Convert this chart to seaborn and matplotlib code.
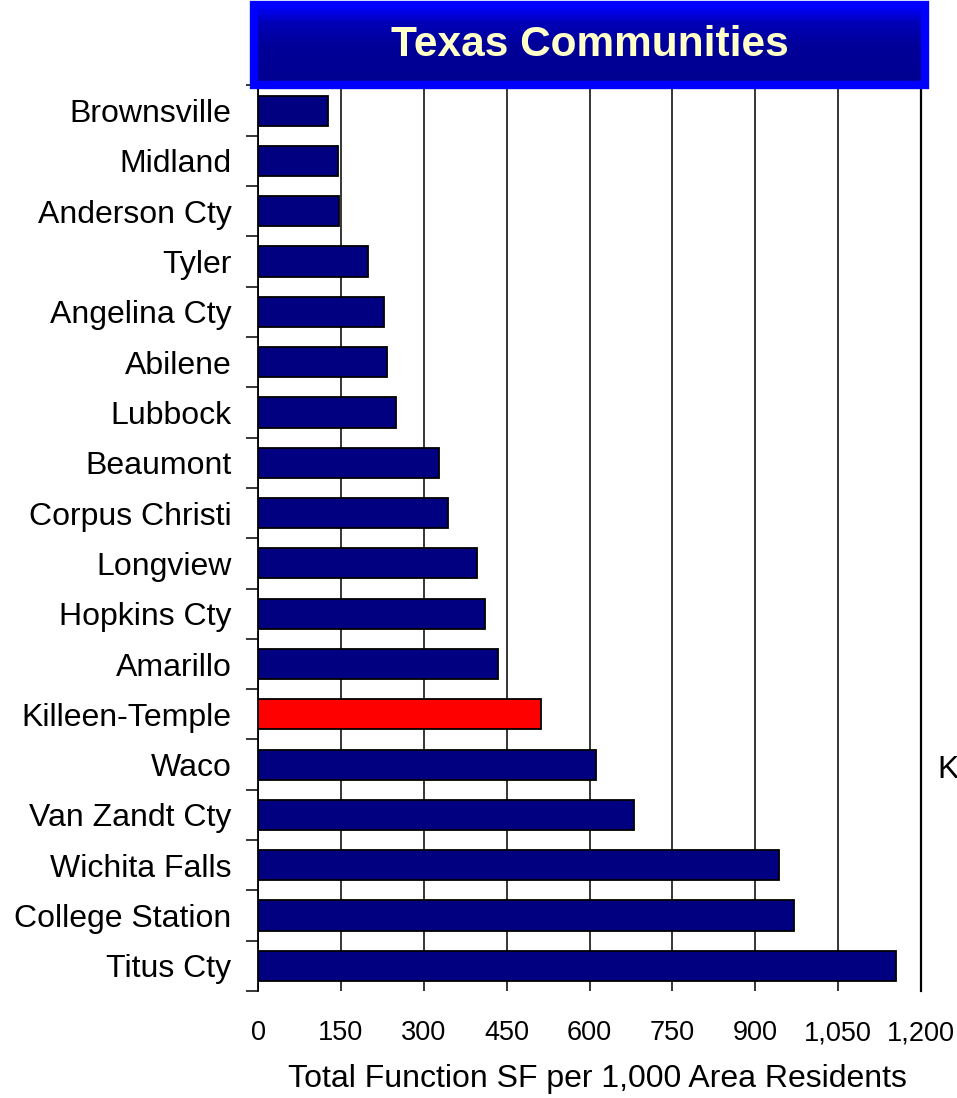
import numpy as np
import pandas as pd
import matplotlib
matplotlib.use("Agg")
import matplotlib.pyplot as plt
from matplotlib.colors import LinearSegmentedColormap
from matplotlib.patches import Rectangle
from matplotlib.ticker import FuncFormatter, FixedLocator
import seaborn as sns

# Total function space (SF) per 1,000 area residents, Texas communities
communities = [
    "Brownsville", "Midland", "Anderson Cty", "Tyler", "Angelina Cty",
    "Abilene", "Lubbock", "Beaumont", "Corpus Christi", "Longview",
    "Hopkins Cty", "Amarillo", "Killeen-Temple", "Waco", "Van Zandt Cty",
    "Wichita Falls", "College Station", "Titus Cty",
]
sf_per_1000 = [
    127, 144, 147, 199, 228,
    233, 250, 328, 344, 397,
    410, 435, 513, 611, 680,
    943, 970, 1154,
]
highlight = "Killeen-Temple"
x_ticks = [0, 150, 300, 450, 600, 750, 900, 1050, 1200]

title_text = "Texas Communities"
x_label = "Total Function SF per 1,000 Area Residents"
side_text = "K"

NAVY = "#000080"
RED = "#FF0000"

sns.set_style("white")
plt.rcParams["font.family"] = ["Liberation Sans", "DejaVu Sans"]

df = pd.DataFrame({"community": communities, "sf": sf_per_1000})
palette = {c: (RED if c == highlight else NAVY) for c in communities}

fig = plt.figure(figsize=(9.57, 10.98), dpi=100)
W, H = 957, 1098
ax = fig.add_axes([258 / W, (H - 991) / H, (921 - 258) / W, (991 - 85.5) / H])

sns.barplot(data=df, x="sf", y="community", hue="community", palette=palette,
            order=communities, hue_order=communities, legend=False,
            orient="h", width=0.6, edgecolor="black", linewidth=1.3,
            saturation=1, ax=ax)

ax.set_xlim(0, 1200)
ax.set_ylim(len(communities) - 0.5, -0.5)

# vertical grid at each major x tick, behind the bars
ax.set_axisbelow(True)
ax.xaxis.set_major_locator(FixedLocator(x_ticks))
ax.grid(axis="x", color="black", linewidth=1.1)
ax.grid(axis="y", visible=False)
ax.xaxis.set_major_formatter(FuncFormatter(lambda v, p: f"{int(v):,}"))
ax.tick_params(axis="x", which="major", direction="out", length=7, width=1.1,
               color="black", labelsize=19.5, pad=14, labelcolor="black")

# category separators as outward minor ticks on the left
ax.yaxis.set_minor_locator(FixedLocator(np.arange(-0.5, len(communities), 1.0)))
ax.tick_params(axis="y", which="major", length=0, labelsize=23, pad=19,
               labelcolor="black")
ax.tick_params(axis="y", which="minor", direction="out", length=9, width=1.1,
               color="black", left=True)

for side in ("top", "bottom"):
    ax.spines[side].set_visible(False)
ax.spines["left"].set_color("black")
ax.spines["left"].set_linewidth(1.3)
ax.spines["right"].set_visible(True)
ax.spines["right"].set_color("black")
ax.spines["right"].set_linewidth(1.6)

ax.set_ylabel("")
ax.set_xlabel(x_label, fontsize=23, color="black")
ax.xaxis.set_label_coords(0.512, -0.081)

# title banner: bright blue frame with a dark-to-bright vertical gradient
bx = fig.add_axes([254 / W, (H - 85) / H, (925 - 254) / W, 80 / H])
bx.set_xlim(0, 1)
bx.set_ylim(0, 1)
bx.axis("off")
grad_cmap = LinearSegmentedColormap.from_list(
    "banner", [(0.0, "#0000F0"), (0.18, "#0000B8"), (0.5, "#00009A"), (1.0, "#000090")])
grad = np.linspace(0, 1, 256).reshape(-1, 1)
bx.imshow(grad, cmap=grad_cmap, aspect="auto", extent=[0, 1, 0, 1],
          origin="upper", interpolation="bicubic")
bx.imshow(grad[::-1], cmap=grad_cmap, aspect="auto", extent=[0.008, 0.992, 0.07, 0.93],
          origin="lower", interpolation="bicubic")
bx.add_patch(Rectangle((0, 0), 1, 1, transform=bx.transAxes, fill=False,
                       edgecolor="#0000FF", linewidth=6, clip_on=False))
bx.text(0.5, 0.5, title_text, ha="center", va="center", fontsize=30.5,
        fontweight="bold", color="#FFFFC8")

# side label at the right edge
fig.text(937 / W, (H - 770) / H, side_text, fontsize=23, ha="left",
         va="center", color="black")

fig.savefig("out.png", dpi=100)
